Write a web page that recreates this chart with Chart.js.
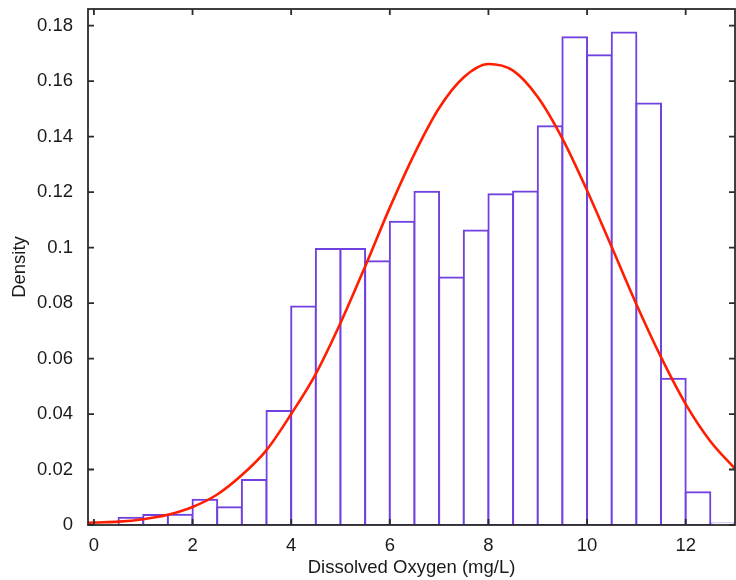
<!DOCTYPE html>
<html lang="en">

<head>
    <meta charset="UTF-8">
    <title>Dissolved Oxygen - Density</title>
    <script src="https://cdn.jsdelivr.net/npm/chart.js"></script>
    <style>
        html, body { margin: 0; padding: 0; background: #fff; }
        canvas { display: block; }
    </style>
</head>

<body>
    <canvas id="myChart" width="736" height="580"></canvas>
    <script>
        // histogram bins (width 0.5), centers and density
        const binCenters = [0.75, 1.25, 1.75, 2.25, 2.75, 3.25, 3.75, 4.25, 4.75, 5.25, 5.75, 6.25, 6.75,
            7.25, 7.75, 8.25, 8.75, 9.25, 9.75, 10.25, 10.75, 11.25, 11.75, 12.25, 12.75];
        const binDensity = [0.0026, 0.0036, 0.0037, 0.0091, 0.0064, 0.0162, 0.0411, 0.0788, 0.0995, 0.0995,
            0.0951, 0.1093, 0.1201, 0.0892, 0.1062, 0.1192, 0.1202, 0.1437, 0.1758, 0.1693, 0.1775, 0.1519,
            0.0527, 0.0118, 0.0005];

        // red fitted curve, sampled by eye
        const fitX = [-0.12, 0, 0.5, 1, 1.5, 2, 2.5, 3, 3.5, 4, 4.5, 5, 5.5, 6, 6.5, 7, 7.5, 8, 8.5,
            9, 9.5, 10, 10.5, 11, 11.5, 12, 12.5, 13];
        const fitY = [0.0008, 0.0009, 0.0012, 0.0021, 0.0037, 0.0065, 0.0110, 0.0180, 0.0270, 0.0400,
            0.0545, 0.0728, 0.0932, 0.1144, 0.1338, 0.1503, 0.1614, 0.1662, 0.1638, 0.1543, 0.1393,
            0.1206, 0.1002, 0.0796, 0.0605, 0.0436, 0.0302, 0.0203];

        const xTicks = [0, 2, 4, 6, 8, 10, 12];
        const yTicks = [0, 0.02, 0.04, 0.06, 0.08, 0.1, 0.12, 0.14, 0.16, 0.18];

        const axisFont = { family: "'Liberation Sans', Arial, sans-serif", size: 18.5 };

        // matlab style box with inward ticks
        const boxPlugin = {
            id: 'boxTicks',
            afterDraw(chart) {
                const ctx = chart.ctx;
                const a = chart.chartArea;
                const xs = chart.scales.x, ys = chart.scales.y;
                ctx.save();
                ctx.strokeStyle = '#2b2b2b';
                ctx.lineWidth = 1.8;
                ctx.strokeRect(a.left, a.top, a.right - a.left, a.bottom - a.top);
                ctx.beginPath();
                xTicks.forEach(function (v) {
                    const px = xs.getPixelForValue(v);
                    ctx.moveTo(px, a.bottom); ctx.lineTo(px, a.bottom - 6);
                    ctx.moveTo(px, a.top); ctx.lineTo(px, a.top + 6);
                });
                yTicks.forEach(function (v) {
                    const py = ys.getPixelForValue(v);
                    ctx.moveTo(a.left, py); ctx.lineTo(a.left + 6, py);
                    ctx.moveTo(a.right, py); ctx.lineTo(a.right - 6, py);
                });
                ctx.stroke();
                ctx.restore();
            }
        };

        const ctx = document.getElementById('myChart');
        const mychart = new Chart(ctx, {
            type: 'bar',
            data: {
                datasets: [{
                    type: 'line',
                    data: fitX.map((x, i) => ({ x: x, y: fitY[i] })),
                    borderColor: 'rgb(255, 30, 0)',
                    borderWidth: 2.6,
                    pointRadius: 0,
                    cubicInterpolationMode: 'monotone',
                    order: 0
                }, {
                    data: binCenters.map((x, i) => ({ x: x, y: binDensity[i] })),
                    backgroundColor: '#ffffff',
                    borderColor: '#7040e0',
                    borderWidth: 2,
                    borderSkipped: false,
                    inflateAmount: 1,
                    barPercentage: 1,
                    categoryPercentage: 1,
                    order: 1
                }]
            },
            options: {
                responsive: false,
                animation: false,
                layout: { padding: { top: 9, right: 1, left: 0, bottom: 0 } },
                plugins: {
                    legend: { display: false },
                    tooltip: { enabled: false }
                },
                scales: {
                    x: {
                        type: 'linear',
                        min: -0.12,
                        max: 13,
                        offset: false,
                        grid: { display: false, offset: false },
                        border: { display: false },
                        afterBuildTicks: function (scale) {
                            scale.ticks = xTicks.map(v => ({ value: v }));
                        },
                        afterFit: function (scale) {
                            scale.height = 55;
                            scale.paddingLeft = 0;
                            scale.paddingRight = 0;
                        },
                        ticks: {
                            font: axisFont,
                            color: '#1a1a1a',
                            padding: 1.5,
                            maxRotation: 0,
                            callback: v => String(v)
                        },
                        title: {
                            display: true,
                            text: 'Dissolved Oxygen (mg/L)',
                            font: axisFont,
                            color: '#1a1a1a',
                            padding: { top: 0, bottom: 1 }
                        }
                    },
                    y: {
                        min: 0,
                        max: 0.186,
                        grid: { display: false },
                        border: { display: false },
                        afterBuildTicks: function (scale) {
                            scale.ticks = yTicks.map(v => ({ value: v }));
                        },
                        afterFit: function (scale) {
                            scale.width = 88;
                            scale.paddingTop = 0;
                            scale.paddingBottom = 0;
                        },
                        ticks: {
                            font: axisFont,
                            color: '#1a1a1a',
                            padding: 7,
                            callback: v => String(Number(v.toFixed(2)))
                        },
                        title: {
                            display: true,
                            text: 'Density',
                            font: axisFont,
                            color: '#1a1a1a',
                            padding: { top: 9, bottom: 0 }
                        }
                    }
                }
            },
            plugins: [boxPlugin]
        });
    </script>
</body>

</html>
